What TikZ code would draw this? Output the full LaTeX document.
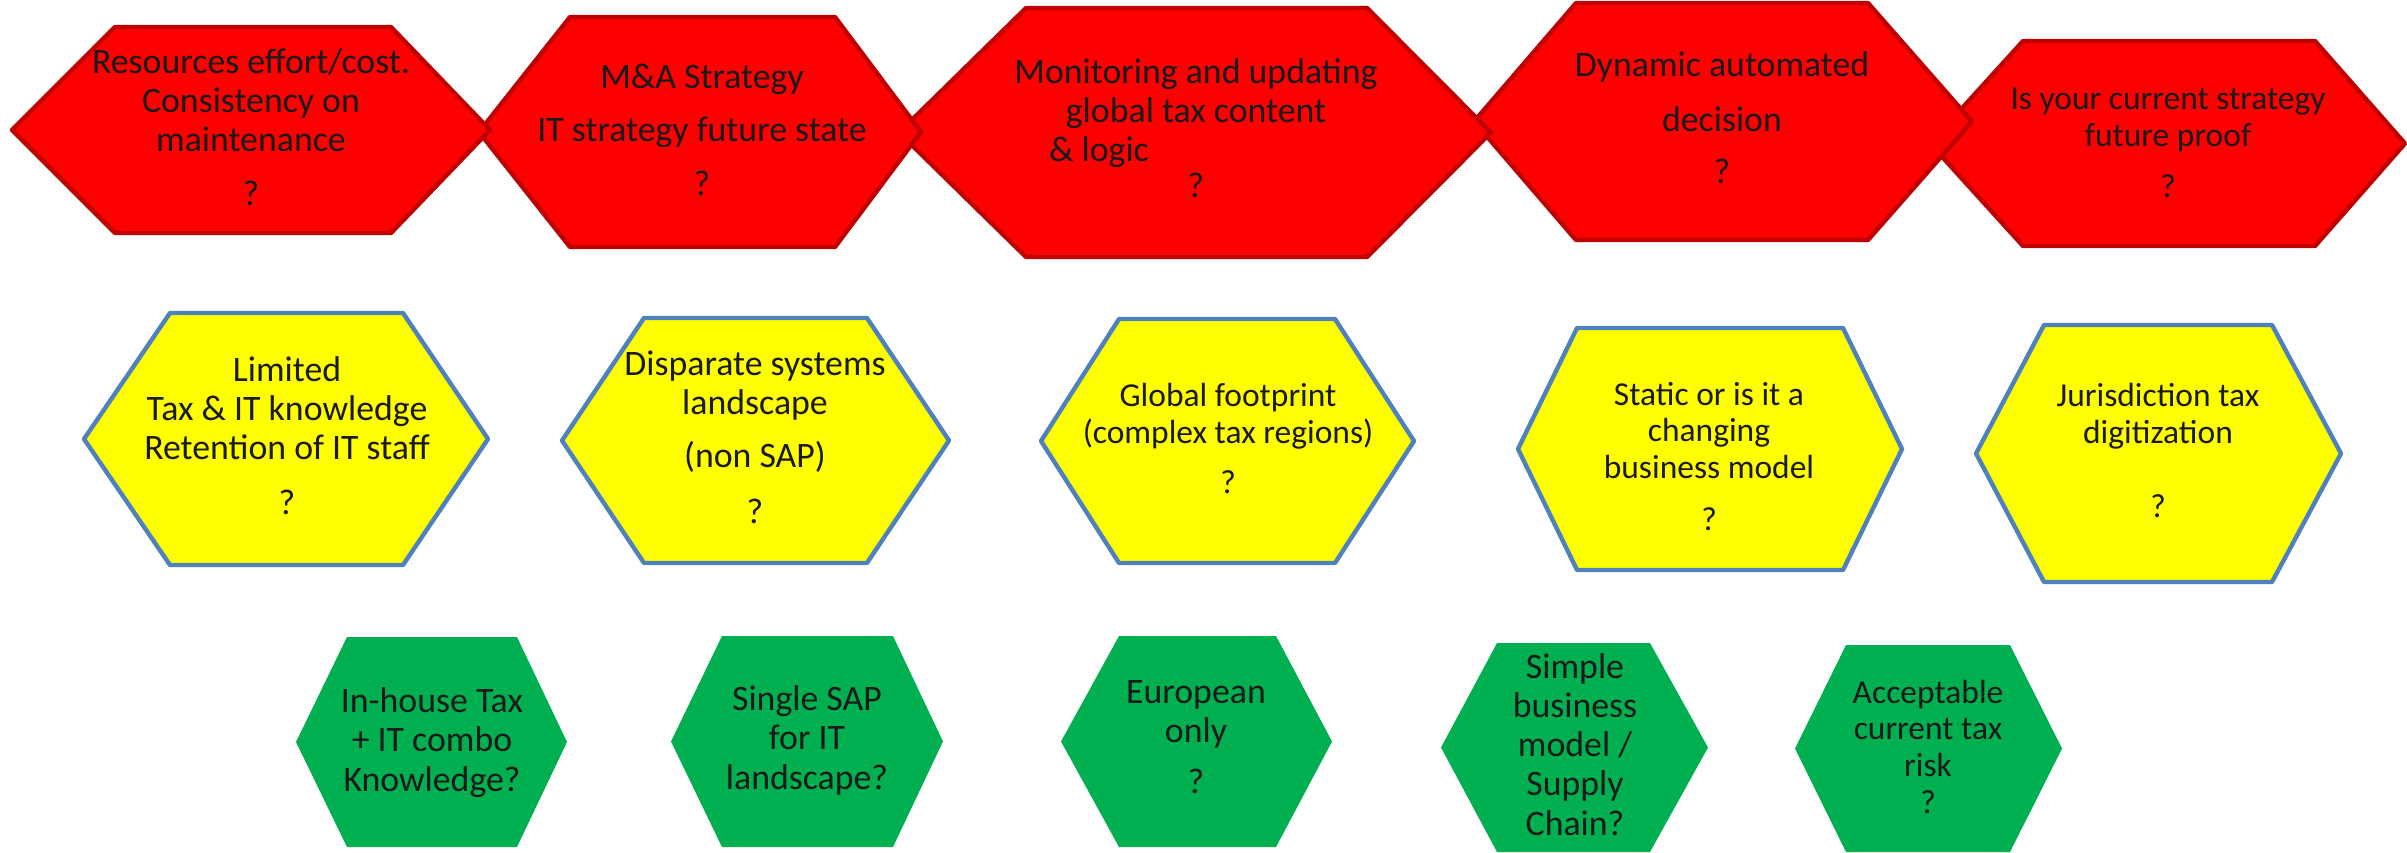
\documentclass[tikz,border=0pt]{standalone}
\usepackage{fontspec}
\setmainfont{Carlito}
\definecolor{hexred}{RGB}{255,0,0}
\definecolor{hexredline}{RGB}{192,0,0}
\definecolor{hexyellow}{RGB}{255,255,0}
\definecolor{hexblue}{RGB}{79,129,189}
\definecolor{hexgreen}{RGB}{0,176,80}
\definecolor{txtcol}{RGB}{26,26,26}
\tikzset{
  redhex/.style={fill=hexred, draw=hexredline, line width=2.2pt, line join=round},
  yelhex/.style={fill=hexyellow, draw=hexblue, line width=2.2pt, line join=round},
  grnhex/.style={fill=hexgreen},
  txt/.style={anchor=base, align=center, inner sep=0pt, text=txtcol,
              font=\fontsize{16.75}{18.3}\selectfont},
  bigtxt/.style={txt, font=\fontsize{17.9}{19.6}\selectfont},
}
% style, x-left, x-topleft, x-topright, x-right, y-top, y-bottom
\newcommand\hexpath[7]{\path[#1] (#2,{(#6+#7)/2}) -- (#3,#6) -- (#4,#6) -- (#5,{(#6+#7)/2}) -- (#4,#7) -- (#3,#7) -- cycle;}
\begin{document}
\begin{tikzpicture}[x=0.5pt,y=-0.5pt]
\useasboundingbox (0,0) rectangle (2407,852);
% red row (left ones on top)
\hexpath{redhex}{1930}{2023}{2315}{2405}{41}{246}
\hexpath{redhex}{1474}{1576}{1868}{1972}{3}{240}
\hexpath{redhex}{899}{1026}{1367}{1491}{8}{257}
\hexpath{redhex}{479}{570}{835}{921}{17}{247}
\hexpath{redhex}{12}{115}{391}{490}{27}{233}
% text nodes anchored at the baseline of their last line
\node[bigtxt] (r1) at (251,205) {Resources effort/cost.\\Consistency on\\maintenance\\[7pt]?};
\node[bigtxt] (r2) at (702,195) {M\&A Strategy\\[7pt]IT strategy future state\\[7pt]?};
\node[bigtxt] (r3) at (1196,197) {Monitoring and updating\\global tax content\\\& logic\rule{97pt}{0pt}\\[-2pt]?};
\node[bigtxt] (r4) at (1722,183) {Dynamic automated\\[8pt]decision\\[6pt]?};
\node[txt] (r5) at (2168,197) {Is your current strategy\\future proof\\[7pt]?};
% yellow row
\hexpath{yelhex}{84}{170}{403}{488}{313}{565}
\hexpath{yelhex}{562}{644}{867}{949}{318}{563}
\hexpath{yelhex}{1041}{1119}{1335}{1414}{319}{563}
\hexpath{yelhex}{1518}{1577}{1843}{1902}{328}{570}
\hexpath{yelhex}{1976}{2044}{2272}{2341}{325}{582}
\node[bigtxt] (y1) at (287,514) {Limited\\Tax \& IT knowledge\\Retention of IT staff\\[7.5pt]?};
\node[bigtxt] (y2) at (755,523) {Disparate systems\\landscape\\[7pt](non SAP)\\[8pt]?};
\node[txt] (y3) at (1228,493) {Global footprint\\(complex tax regions)\\[6.5pt]?};
\node[txt] (y4) at (1709,530) {Static or is it a\\changing\\business model\\[7.5pt]?};
\node[txt] (y5) at (2158,517) {Jurisdiction tax\\digitization\\[18.7pt]?};
% green row
\hexpath{grnhex}{296}{347}{517}{567}{637}{847}
\hexpath{grnhex}{671}{722}{893}{943}{636}{847}
\hexpath{grnhex}{1061}{1119}{1276}{1332}{636}{847}
\hexpath{grnhex}{1441}{1497}{1650}{1708}{643}{852}
\hexpath{grnhex}{1795}{1846}{2010}{2062}{645}{852}
\node[bigtxt] (g1) at (432,791) {In-house Tax\\+ IT combo\\Knowledge?};
\node[bigtxt] (g2) at (807,789) {Single SAP\\for IT\\landscape?};
\node[bigtxt] (g3) at (1196,793) {European\\only\\[5.5pt]?};
\node[bigtxt] (g4) at (1575,835) {Simple\\business\\model /\\Supply\\Chain?};
\node[txt] (g5) at (1928,813) {Acceptable\\current tax\\risk\\?};
\end{tikzpicture}
\end{document}
